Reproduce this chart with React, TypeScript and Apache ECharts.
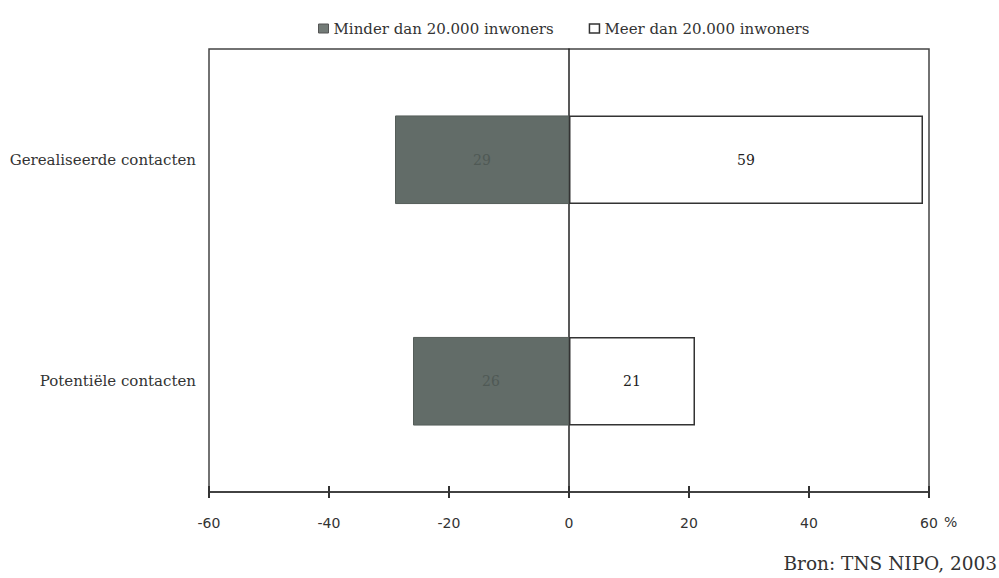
import React, { useEffect, useRef } from "react";
import * as echarts from "echarts";

const categories = ["Gerealiseerde contacten", "Potentiële contacten"];
const minderValues = [-29, -26];
const meerValues = [59, 21];
const seriesNames = ["Minder dan 20.000 inwoners", "Meer dan 20.000 inwoners"];
const xTicks = [-60, -40, -20, 0, 20, 40, 60];

export default function App() {
  const ref = useRef<HTMLDivElement>(null);
  useEffect(() => {
    const chart = echarts.init(ref.current!, null, { renderer: "svg" });
    const serif = "'DejaVu Serif', 'Liberation Serif', serif";
    const sans = "'DejaVu Sans', 'Liberation Sans', sans-serif";
    const axisCommon = {
      type: "value",
      min: xTicks[0],
      max: xTicks[xTicks.length - 1],
      interval: 20,
      splitLine: { show: false },
    };
    chart.setOption({
      animation: false,
      backgroundColor: "#ffffff",
      legend: {
        left: 313,
        top: 16,
        itemWidth: 10,
        itemHeight: 9,
        itemGap: 35,
        icon: "rect",
        textStyle: { fontFamily: serif, fontSize: 15, color: "#333" },
        data: [
          { name: seriesNames[0], itemStyle: { color: "#737b77", borderColor: "#555", borderWidth: 1 } },
          { name: seriesNames[1], itemStyle: { color: "#fff", borderColor: "#333", borderWidth: 1.5 } },
        ],
      },
      grid: {
        left: 209,
        right: 70,
        top: 49,
        bottom: 86,
        show: true,
        borderColor: "#444",
        borderWidth: 1.5,
        backgroundColor: "transparent",
      },
      xAxis: [
        {
          ...axisCommon,
          position: "bottom",
          axisLine: { show: true, onZero: false, lineStyle: { color: "#333", width: 1.5 } },
          axisTick: { show: true, inside: false, length: 6, lineStyle: { color: "#333", width: 2 } },
          axisLabel: {
            margin: 24,
            fontFamily: sans,
            fontSize: 14,
            color: "#333",
          },
        },
        {
          ...axisCommon,
          position: "bottom",
          axisLine: { show: false, onZero: false },
          axisTick: { show: true, inside: true, length: 6, lineStyle: { color: "#333", width: 2 } },
          axisLabel: { show: false },
        },
      ],
      yAxis: {
        type: "category",
        data: categories,
        inverse: true,
        axisLine: { show: true, onZero: true, lineStyle: { color: "#222", width: 1.5 } },
        axisTick: { show: false },
        axisLabel: {
          fontFamily: serif,
          fontSize: 15,
          color: "#333",
          margin: 13,
        },
        position: "left",
      },
      series: [
        {
          name: seriesNames[0],
          type: "bar",
          stack: "total",
          barWidth: "40%",
          data: minderValues,
          itemStyle: { color: "#626c68", borderColor: "#555d59", borderWidth: 1 },
          label: {
            show: true,
            position: "inside",
            formatter: (p: any) => String(Math.abs(p.value)),
            fontFamily: serif,
            fontSize: 14,
            color: "#4f5955",
          },
        },
        {
          name: seriesNames[1],
          type: "bar",
          stack: "total",
          barWidth: "40%",
          data: meerValues,
          itemStyle: { color: "#ffffff", borderColor: "#333", borderWidth: 1.5 },
          label: {
            show: true,
            position: "inside",
            fontFamily: serif,
            fontSize: 14,
            color: "#222",
          },
        },
      ],
      graphic: [
        {
          type: "text",
          left: 944,
          top: 515,
          style: { text: "%", font: `14px ${sans}`, fill: "#333" },
        },
        {
          type: "text",
          right: 2,
          top: 554,
          style: { text: "Bron: TNS NIPO, 2003", font: `18.5px ${serif}`, fill: "#333" },
        },
      ],
    });
    return () => chart.dispose();
  }, []);
  return (
    <div
      ref={ref}
      style={{ position: "absolute", left: 0, top: 0, width: 999, height: 578 }}
    />
  );
}
